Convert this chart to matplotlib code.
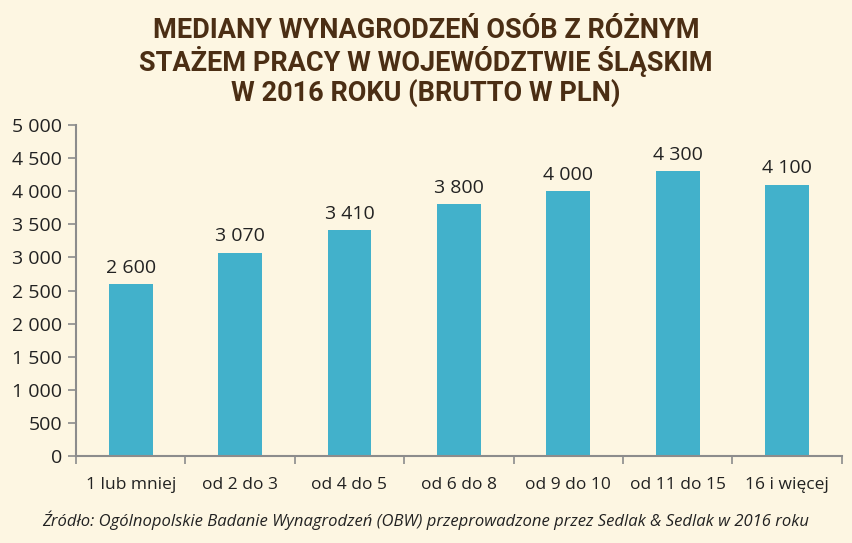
import matplotlib
matplotlib.use("Agg")
import matplotlib.pyplot as plt
from matplotlib.ticker import FixedLocator, NullFormatter

categories = ["1 lub mniej", "od 2 do 3", "od 4 do 5", "od 6 do 8", "od 9 do 10", "od 11 do 15", "16 i więcej"]
values = [2600, 3070, 3410, 3800, 4000, 4300, 4100]
yticks = [0, 500, 1000, 1500, 2000, 2500, 3000, 3500, 4000, 4500, 5000]

title = "MEDIANY WYNAGRODZEŃ OSÓB Z RÓŻNYM\nSTAŻEM PRACY W WOJEWÓDZTWIE ŚLĄSKIM\nW 2016 ROKU (BRUTTO W PLN)"
source = "Źródło: Ogólnopolskie Badanie Wynagrodzeń (OBW) przeprowadzone przez Sedlak & Sedlak w 2016 roku"

def fmt(v):
    return f"{v:,}".replace(",", " ")

bg = "#FDF6E2"
bar_color = "#42B1CB"
title_color = "#4B2E14"
text_color = "#222222"
axis_color = "#8C8C8C"

fig = plt.figure(figsize=(8.52, 5.43), dpi=100, facecolor=bg)
ax = fig.add_axes([0.0892, 0.1602, 0.8988, 0.6096], facecolor=bg)

x = list(range(len(categories)))
ax.bar(x, values, width=0.4, color=bar_color, zorder=2)
for xi, v in zip(x, values):
    ax.text(xi, v + 110, fmt(v), ha="center", va="bottom", fontsize=14, color=text_color, family="Open Sans")

ax.set_xlim(-0.5, len(categories) - 0.5)
ax.set_ylim(0, 5000)
ax.set_yticks(yticks)
ax.set_yticklabels([fmt(t) for t in yticks], fontsize=14, color=text_color, family="Open Sans")
ax.set_xticks(x)
ax.set_xticklabels(categories, fontsize=12.5, color=text_color, family="Open Sans")
ax.xaxis.set_minor_locator(FixedLocator([i - 0.5 for i in range(len(categories) + 1)]))
ax.xaxis.set_minor_formatter(NullFormatter())
ax.tick_params(axis="x", which="major", length=0, pad=15)
ax.tick_params(axis="x", which="minor", length=6, color=axis_color, width=1.2)
ax.tick_params(axis="y", length=6, color=axis_color, width=1.2, pad=4)

for s in ["top", "right"]:
    ax.spines[s].set_visible(False)
for s in ["left", "bottom"]:
    ax.spines[s].set_color(axis_color)
    ax.spines[s].set_linewidth(1.5)

fig.text(0.5, 0.968, title, ha="center", va="top", fontsize=19.5, fontweight="bold",
         color=title_color, family=["Roboto", "DejaVu Sans"], linespacing=1.07)
fig.text(0.5, 0.042, source, ha="center", va="center", fontsize=12, style="italic",
         color=text_color, family="Open Sans")

fig.savefig("out.png", dpi=100, facecolor=bg)
